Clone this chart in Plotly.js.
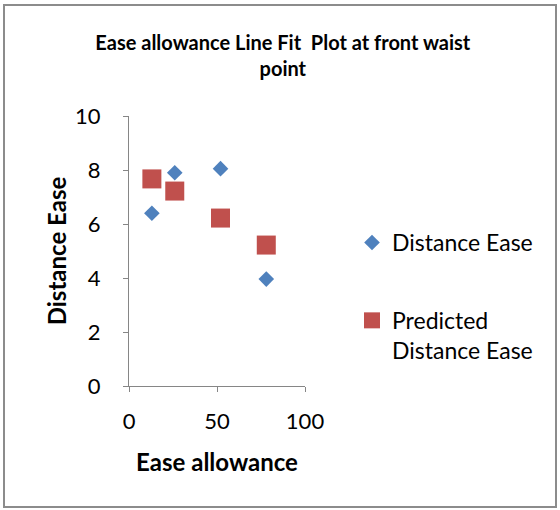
<!DOCTYPE html>
<html><head><meta charset="utf-8">
<script src="https://cdn.plot.ly/plotly-3.0.1.min.js"></script>
<style>
html,body{margin:0;padding:0;background:#fff;}
#wrap{position:relative;width:560px;height:510px;}
#chart{position:absolute;left:0;top:0;width:560px;height:510px;}
#frame{position:absolute;left:3px;top:4px;width:550px;height:500px;border:2px solid #8c8c8c;pointer-events:none;}
</style></head>
<body>
<div id="wrap"><div id="chart"></div><div id="frame"></div></div>
<script>
const easeAllowance = [13, 26, 52, 78];
const distanceEase = [6.4, 7.9, 8.05, 3.96];
const predictedDistanceEase = [7.67, 7.22, 6.22, 5.22];
const xTicks = [0, 50, 100];
const yTicks = [0, 2, 4, 6, 8, 10];

const F = 'Lato, "Open Sans", sans-serif';
const traces = [
  {x: easeAllowance, y: distanceEase, type: 'scatter', mode: 'markers', name: 'Distance Ease',
   legendgroup: 'a',
   marker: {symbol: 'diamond', size: 12, color: '#4F81BD'}},
  {x: easeAllowance, y: predictedDistanceEase, type: 'scatter', mode: 'markers', name: 'Predicted<br>Distance Ease',
   legendgroup: 'b',
   marker: {symbol: 'square', size: 19, color: '#C0504D'}}
];
const layout = {
  width: 560, height: 510,
  margin: {l: 129, r: 255, t: 116, b: 124},
  paper_bgcolor: '#fff', plot_bgcolor: '#fff',
  font: {family: F, color: '#000'},
  title: {text: '<b>Ease allowance Line Fit  Plot at front waist<br>point</b>',
          font: {family: F, size: 20, color: '#000'},
          x: 0.505, xanchor: 'center', y: 1 - 50/510, yanchor: 'top'},
  xaxis: {range: [0, 100], tickvals: xTicks, ticktext: xTicks.map(String),
          showgrid: false, zeroline: false, showline: true, linecolor: '#868686', linewidth: 1,
          ticks: 'outside', ticklen: 5, tickcolor: '#868686', ticklabelstandoff: 11,
          tickfont: {family: F, size: 22}, fixedrange: true,
          title: {text: '<b>Ease allowance</b>', font: {family: F, size: 24}, standoff: 20}},
  yaxis: {range: [0, 10], tickvals: yTicks, ticktext: yTicks.map(String),
          showgrid: false, zeroline: false, showline: true, linecolor: '#868686', linewidth: 1,
          ticks: 'outside', ticklen: 5, tickcolor: '#868686', ticklabelstandoff: 18,
          tickfont: {family: F, size: 22}, fixedrange: true,
          title: {text: '<b>Distance Ease</b>', font: {family: F, size: 24}, standoff: 1}},
  showlegend: true,
  legend: {x: 352/560, xref: 'container', y: 1 - 221/510, yref: 'container', xanchor: 'left', yanchor: 'top',
           font: {family: F, size: 23}, valign: 'top', tracegroupgap: 45, itemwidth: 30,
           bgcolor: 'rgba(0,0,0,0)'}
};
Plotly.newPlot('chart', traces, layout, {displayModeBar: false, staticPlot: true});
</script>
</body></html>
